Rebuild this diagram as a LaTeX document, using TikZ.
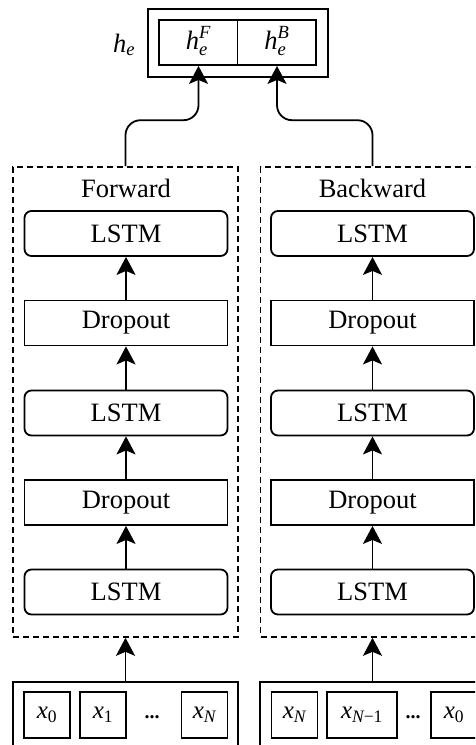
\documentclass[tikz,border=0pt]{standalone}
\usepackage{fontspec}
\usepackage{amsmath}
\setmainfont{Liberation Serif}
\usetikzlibrary{arrows.meta}
\newcommand{\iv}[1]{\text{\itshape #1}}
\begin{document}
\begin{tikzpicture}[x=1pt,y=-1pt,
  font=\fontsize{26.5}{30}\selectfont,
  lstm/.style={draw, line width=1.8pt, rounded corners=7pt, minimum width=203pt, minimum height=45pt, inner sep=0pt},
  drop/.style={draw, line width=1.8pt, minimum width=203pt, minimum height=45pt, inner sep=0pt},
  dashbox/.style={draw, line width=1.6pt, dash pattern=on 6pt off 4pt, minimum width=225pt, minimum height=470pt, inner sep=0pt},
  plainbox/.style={draw, line width=1.8pt, inner sep=0pt},
  xbox/.style={draw, line width=1.8pt, minimum width=46pt, minimum height=46pt, inner sep=0pt, font=\fontsize{25}{28}\selectfont},
  arr/.style={line width=1.8pt, -{Stealth[length=18pt,width=19pt,inset=4pt]}}
]
\useasboundingbox (0,0) rectangle (475,745);
\clip (0,0) rectangle (475,745);

% top encoding box
\node[plainbox, line width=2.2pt, minimum width=180pt, minimum height=68pt] (he) at (238,43) {};
\node[plainbox, minimum width=157pt, minimum height=45pt] (hin) at (237.5,42.5) {};
\draw[line width=1.8pt] (hin.north) -- (hin.south);
\node[inner sep=1pt] (hF) at (198.5,41) {$\iv{h}_{\iv{e}}^{\iv{F}}$};
\node[inner sep=1pt] (hB) at (277,41) {$\iv{h}_{\iv{e}}^{\iv{B}}$};
\node (helab) at (124,45) {$\iv{h}_{\iv{e}}$};

% forward
\node[dashbox] (fw) at (125.5,402) {};
\node (fwt) at (126,188) {Forward};
\node[lstm] (fl1) at (126,233.5) {LSTM};
\node[drop] (fd1) at (126,323) {Dropout};
\node[lstm] (fl2) at (126,413) {LSTM};
\node[drop] (fd2) at (126,502.5) {Dropout};
\node[lstm] (fl3) at (126,592) {LSTM};

% backward
\node[dashbox] (bw) at (373,402) {};
\node (bwt) at (372.5,188) {Backward};
\node[lstm] (bl1) at (372.5,233.5) {LSTM};
\node[drop] (bd1) at (372.5,323) {Dropout};
\node[lstm] (bl2) at (372.5,413) {LSTM};
\node[drop] (bd2) at (372.5,502.5) {Dropout};
\node[lstm] (bl3) at (372.5,592) {LSTM};

% inputs
\node[plainbox, minimum width=225pt, minimum height=90pt] (inF) at (125.5,727) {};
\node[plainbox, minimum width=225pt, minimum height=90pt] (inB) at (372.5,727) {};
\node[xbox] (fx0) at (47,715) {$\iv{x}_{\text{0}}$};
\node[xbox] (fx1) at (103,715) {$\iv{x}_{\text{1}}$};
\node (fdots) at (152,717) {\fontsize{20}{24}\selectfont\bfseries ...};
\node[xbox] (fxN) at (204.5,715) {$\iv{x}_{\iv{N}}$};
\node[xbox] (bxN) at (294.5,715) {$\iv{x}_{\iv{N}}$};
\node[xbox, minimum width=70pt] (bxN1) at (362,715) {$\iv{x}_{\text{\itshape N\upshape −1}}$};
\node (bdots) at (413,717) {\fontsize{20}{24}\selectfont\bfseries ...};
\node[xbox] (bx0) at (454,715) {$\iv{x}_{\text{0}}$};

% arrows inside stacks
\foreach \p in {f,b}{
  \draw[arr] (\p l3.north) -- (\p d2.south);
  \draw[arr] (\p d2.north) -- (\p l2.south);
  \draw[arr] (\p l2.north) -- (\p d1.south);
  \draw[arr] (\p d1.north) -- (\p l1.south);
}
\draw[arr] (inF.north) -- (fw.south);
\draw[arr] (inB.north -| bl3.south) -- (bl3.south |- bw.south);

% to encoding
\draw[arr, rounded corners=15pt] (fw.north) -- ++(0,-46) -| (hF |- hin.south);
\draw[arr, rounded corners=15pt] (bl1.north |- bw.north) -- ++(0,-46) -| (hB |- hin.south);
\end{tikzpicture}
\end{document}
